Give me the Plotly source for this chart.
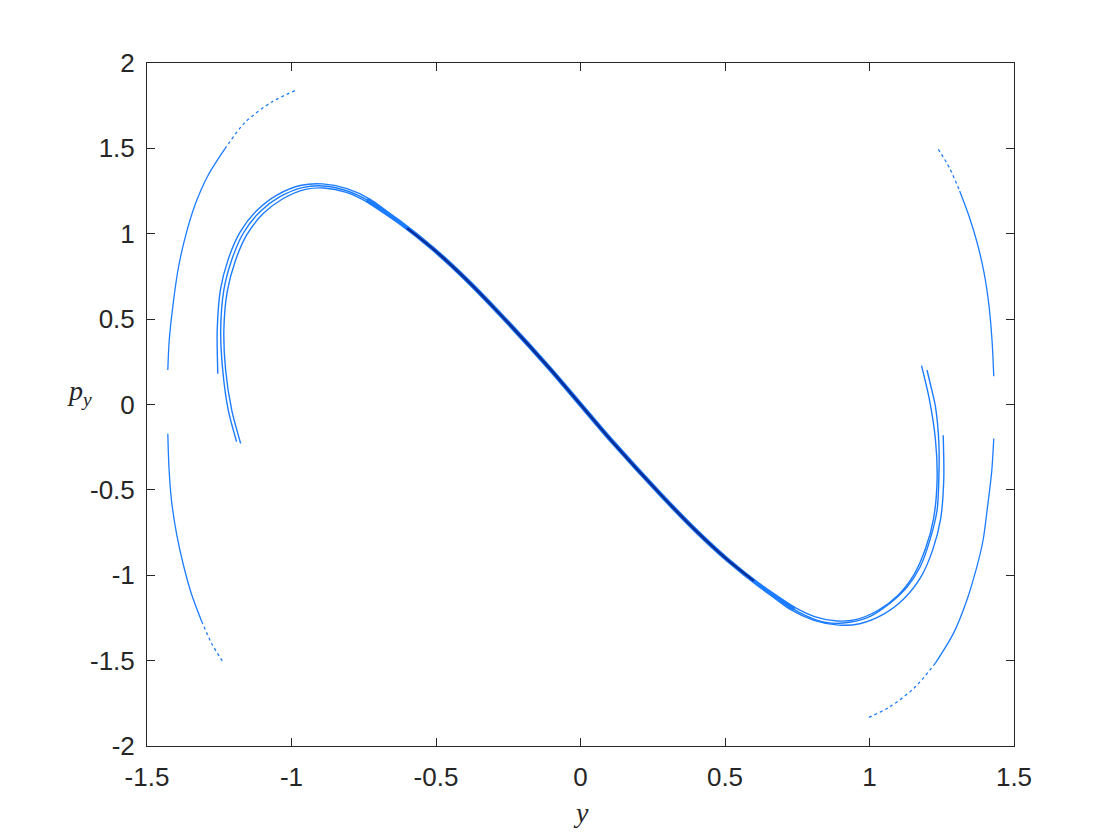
import plotly.graph_objects as go

# middle strand of the S-shaped island chain
s_mid_x = [-1.190, -1.219, -1.238, -1.245, -1.234, -1.207, -1.167, -1.109, -1.040, -0.959, -0.890, -0.809,
           -0.728, -0.620, -0.509, -0.400, -0.279, -0.106, 0.000, 0.106, 0.279, 0.400, 0.509, 0.620,
           0.690, 0.760, 0.839, 0.908, 0.991, 1.071, 1.130, 1.175, 1.209, 1.234, 1.240, 1.240, 1.228, 1.212, 1.199]
s_mid_y = [-0.218, -0.032, 0.202, 0.436, 0.671, 0.846, 1.003, 1.129, 1.217, 1.272, 1.280, 1.252,
           1.188, 1.060, 0.910, 0.740, 0.530, 0.210, 0.000, -0.210, -0.530, -0.740, -0.910, -1.060,
           -1.145, -1.221, -1.274, -1.280, -1.250, -1.163, -1.069, -0.952, -0.794, -0.618, -0.425, -0.225, -0.010, 0.110, 0.202]

# outer strand
s_out_x = [-1.255, -1.257, -1.246, -1.219, -1.178, -1.119, -1.049, -0.966, -0.893, -0.808, -0.726, -0.620,
           -0.509, -0.400, -0.279, -0.106, 0.000, 0.106, 0.279, 0.400, 0.509, 0.620, 0.726, 0.808,
           0.893, 0.966, 1.049, 1.119, 1.178, 1.219, 1.246, 1.257, 1.255]
s_out_y = [0.180, 0.436, 0.671, 0.850, 1.010, 1.138, 1.228, 1.284, 1.292, 1.264, 1.200, 1.065,
           0.912, 0.741, 0.530, 0.210, 0.000, -0.210, -0.530, -0.741, -0.912, -1.065, -1.200, -1.264,
           -1.292, -1.284, -1.228, -1.138, -1.010, -0.850, -0.671, -0.436, -0.180]

# inner strand
s_in_x = [-1.176, -1.207, -1.228, -1.234, -1.222, -1.195, -1.155, -1.098, -1.030, -0.952, -0.887, -0.810,
          -0.730, -0.620, -0.509, -0.400, -0.279, -0.106, 0.000, 0.106, 0.279, 0.400, 0.509, 0.620,
          0.730, 0.810, 0.887, 0.952, 1.030, 1.098, 1.155, 1.195, 1.222, 1.234, 1.228, 1.207, 1.180]
s_in_y = [-0.228, -0.032, 0.202, 0.436, 0.665, 0.838, 0.993, 1.118, 1.205, 1.260, 1.268, 1.242,
          1.178, 1.055, 0.908, 0.739, 0.530, 0.210, 0.000, -0.210, -0.530, -0.739, -0.908, -1.055,
          -1.178, -1.242, -1.268, -1.260, -1.205, -1.118, -0.993, -0.838, -0.665, -0.436, -0.202, 0.032, 0.228]

# dense part of the S: a wide blue band and a narrower dark core
band_x = [-0.740, -0.620, -0.509, -0.400, -0.279, -0.106, 0.000, 0.106, 0.279, 0.400, 0.509, 0.620, 0.740]
band_y = [1.198, 1.060, 0.910, 0.740, 0.530, 0.210, 0.000, -0.210, -0.530, -0.740, -0.910, -1.060, -1.198]
core_x = [-0.600, -0.509, -0.400, -0.279, -0.106, 0.000, 0.106, 0.279, 0.400, 0.509, 0.600]
core_y = [1.033, 0.910, 0.740, 0.530, 0.210, 0.000, -0.210, -0.530, -0.740, -0.910, -1.033]

# outer arcs: sparse (dotted) ends and a denser middle, with a gap near p_y = 0
arc_left_top_x = [-0.988, -1.068, -1.161, -1.230]
arc_left_top_y = [1.838, 1.772, 1.652, 1.498]
arc_left_x = [-1.230, -1.288, -1.334, -1.369, -1.392, -1.409, -1.423, -1.428, None,
              -1.428, -1.424, -1.415, -1.397, -1.374, -1.345, -1.311]
arc_left_y = [1.498, 1.344, 1.168, 0.971, 0.795, 0.597, 0.378, 0.202, None,
              -0.171, -0.369, -0.566, -0.764, -0.940, -1.116, -1.269]
arc_left_bot_x = [-1.311, -1.276, -1.236]
arc_left_bot_y = [-1.269, -1.401, -1.511]

arc_right_top_x = [1.238, 1.277, 1.312]
arc_right_top_y = [1.495, 1.385, 1.250]
arc_right_x = [1.312, 1.345, 1.372, 1.396, 1.413, 1.424, 1.430, None,
               1.430, 1.423, 1.408, 1.393, 1.370, 1.335, 1.290, 1.228]
arc_right_y = [1.250, 1.100, 0.950, 0.775, 0.585, 0.375, 0.165, None,
               -0.200, -0.390, -0.605, -0.795, -0.960, -1.155, -1.342, -1.515]
arc_right_bot_x = [1.228, 1.155, 1.070, 0.990]
arc_right_bot_y = [-1.515, -1.660, -1.771, -1.838]

x_ticks = [-1.5, -1, -0.5, 0, 0.5, 1, 1.5]
x_ticktext = ['-1.5', '-1', '-0.5', '0', '0.5', '1', '1.5']
y_ticks = [-2, -1.5, -1, -0.5, 0, 0.5, 1, 1.5, 2]
y_ticktext = ['-2', '-1.5', '-1', '-0.5', '0', '0.5', '1', '1.5', '2']

blue = '#1c7cff'
navy = '#0a2d96'


def add_curve(fig, xs, ys, color=blue, width=1.3, dash='solid'):
    fig.add_trace(go.Scatter(x=xs, y=ys, mode='lines', connectgaps=False, showlegend=False, hoverinfo='skip',
                             line=dict(color=color, width=width, dash=dash, shape='spline', smoothing=0.8)))


fig = go.Figure()
for xs, ys in [(arc_left_top_x, arc_left_top_y), (arc_left_bot_x, arc_left_bot_y),
               (arc_right_top_x, arc_right_top_y), (arc_right_bot_x, arc_right_bot_y)]:
    add_curve(fig, xs, ys, width=1.3, dash='dot')
add_curve(fig, arc_left_x, arc_left_y, width=1.3)
add_curve(fig, arc_right_x, arc_right_y, width=1.3)
add_curve(fig, s_out_x, s_out_y, width=1.4)
add_curve(fig, s_mid_x, s_mid_y, width=1.4)
add_curve(fig, s_in_x, s_in_y, width=1.4)
add_curve(fig, band_x, band_y, color=blue, width=4.5)
add_curve(fig, core_x, core_y, color=navy, width=2.5)

axis_common = dict(showline=True, linecolor='#262626', linewidth=1, mirror='ticks', ticks='inside',
                   ticklen=8, tickcolor='#262626', showgrid=False, zeroline=False,
                   tickfont=dict(family='Liberation Sans, Arial', size=26, color='#262626'))
fig.update_xaxes(range=[-1.5, 1.5], tickvals=x_ticks, ticktext=x_ticktext, ticklabelstandoff=8, **axis_common)
fig.update_yaxes(range=[-2, 2], tickvals=y_ticks, ticktext=y_ticktext, ticklabelstandoff=6, **axis_common)

fig.add_annotation(text='<i>y</i>', xref='paper', yref='paper', x=0.5, y=-0.098, showarrow=False,
                   xanchor='center', yanchor='middle',
                   font=dict(family='Liberation Serif', size=28, color='#262626'))
fig.add_annotation(text='<i>p</i><sub><i>y</i></sub>', xref='paper', yref='paper', x=-0.078, y=0.518,
                   showarrow=False, xanchor='center', yanchor='middle',
                   font=dict(family='Liberation Serif', size=28, color='#262626'))

# page body adds an 8 px offset, so margins are shifted to keep the axes box where it is
fig.update_layout(width=1120, height=840, margin=dict(l=139, r=114, t=55, b=102),
                  plot_bgcolor='white', paper_bgcolor='white')
fig.write_html('out.html')
